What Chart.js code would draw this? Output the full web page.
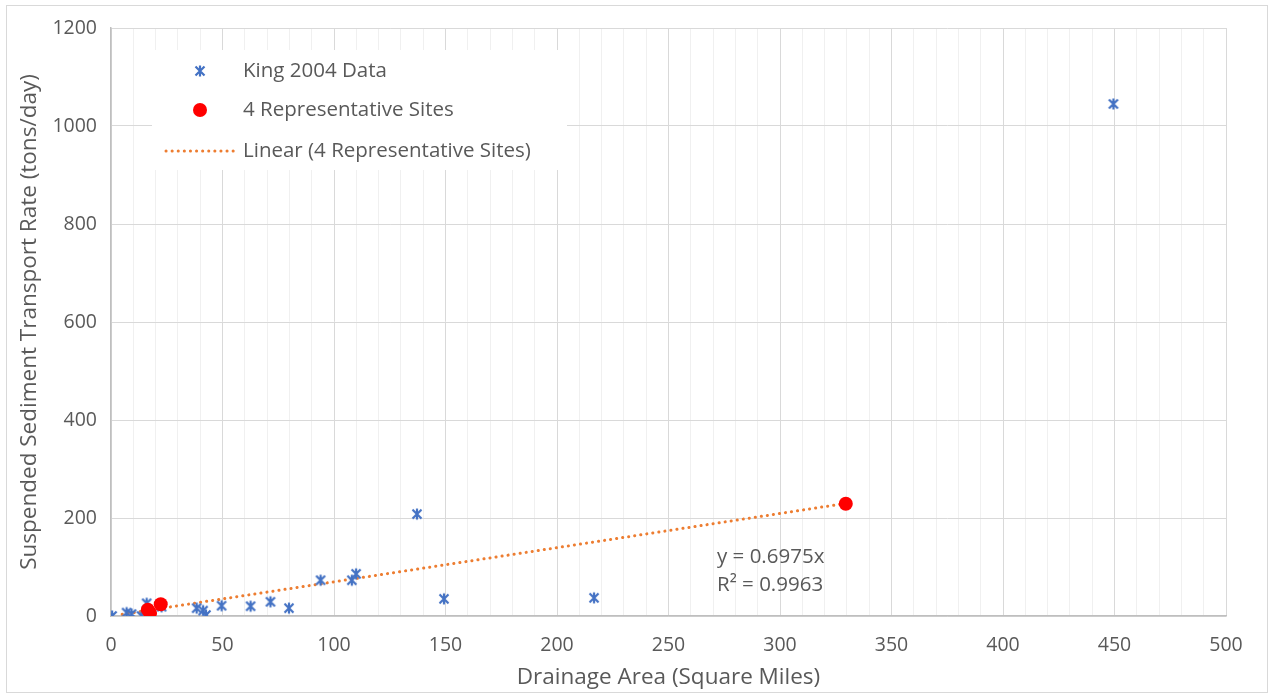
<!DOCTYPE html>
<html>
<head>
<meta charset="utf-8">
<script src="https://cdn.jsdelivr.net/npm/chart.js@4"></script>
<style>
html,body{margin:0;padding:0;background:#fff;}
#wrap{position:relative;width:1271px;height:696px;}
</style>
</head>
<body>
<div id="wrap"><canvas id="c" width="1271" height="696"></canvas></div>
<script>
const kingX = [0.5, 7, 9.2, 13.7, 16, 22.7, 38.4, 41.3, 42.6, 49.6, 62.6, 71.5, 79.8, 94, 108, 109.9, 137.2, 149.3, 216.6, 449.5];
const kingY = [0, 7, 4, 0, 26, 19, 16, 11, 2, 21, 20, 29, 16, 73, 73, 86, 208, 35, 37, 1045];
const siteX = [16.5, 17.5, 22.3, 329.5];
const siteY = [13, 6, 24, 229];
const trendSlope = 0.6975;
const trendR2 = 0.9963;
const trendRange = [5, 329.5];
const xTicks = [0, 50, 100, 150, 200, 250, 300, 350, 400, 450, 500];
const yTicks = [0, 200, 400, 600, 800, 1000, 1200];
const legendLabels = ['King 2004 Data', '4 Representative Sites', 'Linear (4 Representative Sites)'];
const xTitle = 'Drainage Area (Square Miles)';
const yTitle = 'Suspended Sediment Transport Rate (tons/day)';

const BLUE = '#4472C4', RED = '#FF0000', ORANGE = '#ED7D31', TXT = '#595959';
const FONT = '"Open Sans", "Liberation Sans", sans-serif';

function starCanvas(){
  const c = document.createElement('canvas');
  c.width = 14; c.height = 14;
  const g = c.getContext('2d');
  g.strokeStyle = BLUE; g.lineWidth = 2.2; g.lineCap = 'butt';
  g.beginPath();
  g.moveTo(2.5,2.5); g.lineTo(11.5,11.5);
  g.moveTo(11.5,2.5); g.lineTo(2.5,11.5);
  g.moveTo(7,1.5); g.lineTo(7,12.5);
  g.stroke();
  return c;
}
const star = starCanvas();

const kingData = kingX.map((x,i)=>({x:x,y:kingY[i]}));
const siteData = siteX.map((x,i)=>({x:x,y:siteY[i]}));
const trendData = trendRange.map(x=>({x:x,y:trendSlope*x}));

const frame = {
  id:'frame',
  beforeDraw(chart){
    const ctx = chart.ctx;
    ctx.save();
    ctx.fillStyle = '#fff';
    ctx.fillRect(0,0,chart.width,chart.height);
    ctx.strokeStyle = '#d9d9d9'; ctx.lineWidth = 1;
    ctx.strokeRect(6.5,5.5,1261,687);
    ctx.restore();
  },
  afterDatasetsDraw(chart){
    const ctx = chart.ctx;
    ctx.save();
    ctx.fillStyle = '#fff';
    ctx.fillRect(152,50,415,120);
    ctx.font = '20.5px ' + FONT;
    ctx.textBaseline = 'middle';
    ctx.textAlign = 'left';
    const rows = [71, 110, 151];
    ctx.drawImage(star, 200-7, rows[0]-7);
    ctx.beginPath(); ctx.arc(200, rows[1], 7, 0, Math.PI*2); ctx.fillStyle = RED; ctx.fill();
    ctx.strokeStyle = ORANGE; ctx.lineWidth = 3; ctx.lineCap = 'round';
    ctx.setLineDash([0.1, 6]);
    ctx.beginPath(); ctx.moveTo(166, rows[2]); ctx.lineTo(236, rows[2]); ctx.stroke();
    ctx.setLineDash([]);
    ctx.fillStyle = TXT;
    legendLabels.forEach((t,i)=>ctx.fillText(t, 243, rows[i]));
    ctx.fillText('y = ' + trendSlope + 'x', 717, 557);
    ctx.fillText('R\u00B2 = ' + trendR2, 717, 585);
    ctx.restore();
  }
};

new Chart(document.getElementById('c'), {
  type: 'scatter',
  data: {
    datasets: [
      {label: legendLabels[2], data: trendData, type:'line', showLine:true, borderColor: ORANGE, borderWidth: 3,
       borderDash:[0.1,6], borderCapStyle:'round', pointRadius:0, fill:false, order:3},
      {label: legendLabels[0], data: kingData, pointStyle: star, pointRadius: 7, order:2},
      {label: legendLabels[1], data: siteData, pointStyle:'circle', pointRadius: 7, backgroundColor: RED, borderColor: RED, borderWidth:0, order:1}
    ]
  },
  options: {
    responsive:false, animation:false,
    layout:{padding:{top:28, right:45, left:16, bottom:5}},
    plugins:{legend:{display:false}, tooltip:{enabled:false}},
    scales:{
      x:{
        type:'linear', min:0, max:500,
        afterBuildTicks(s){ const t=[]; for(let v=0; v<=500; v+=10) t.push({value:v}); s.ticks=t; },
        afterFit(s){ s.height = 75; },
        ticks:{ autoSkip:false, maxRotation:0, padding:18, color:TXT, font:{family:FONT, size:19.5},
          callback(v){ return xTicks.includes(v) ? String(v) : ''; } },
        grid:{ drawTicks:false, lineWidth:1,
          color(c){ const v=c.tick.value; return v%50===0 ? '#d9d9d9' : '#f0f0f0'; } },
        border:{color:'#bfbfbf', width:1.5},
        title:{display:true, text:xTitle, color:TXT, font:{family:FONT, size:22.5}, padding:{top:0,bottom:0}}
      },
      y:{
        type:'linear', min:0, max:1200,
        afterBuildTicks(s){ s.ticks = yTicks.map(v=>({value:v})); },
        afterFit(s){ s.width = 95; },
        ticks:{ padding:14, color:TXT, font:{family:FONT, size:19.5}, callback(v){ return String(v); } },
        grid:{ drawTicks:false, color:'#d9d9d9', lineWidth:1 },
        border:{color:'#bfbfbf', width:1.5},
        title:{display:true, text:yTitle, color:TXT, font:{family:FONT, size:22.5}, padding:{top:0,bottom:0}}
      }
    }
  },
  plugins:[frame]
});
</script>
</body>
</html>
